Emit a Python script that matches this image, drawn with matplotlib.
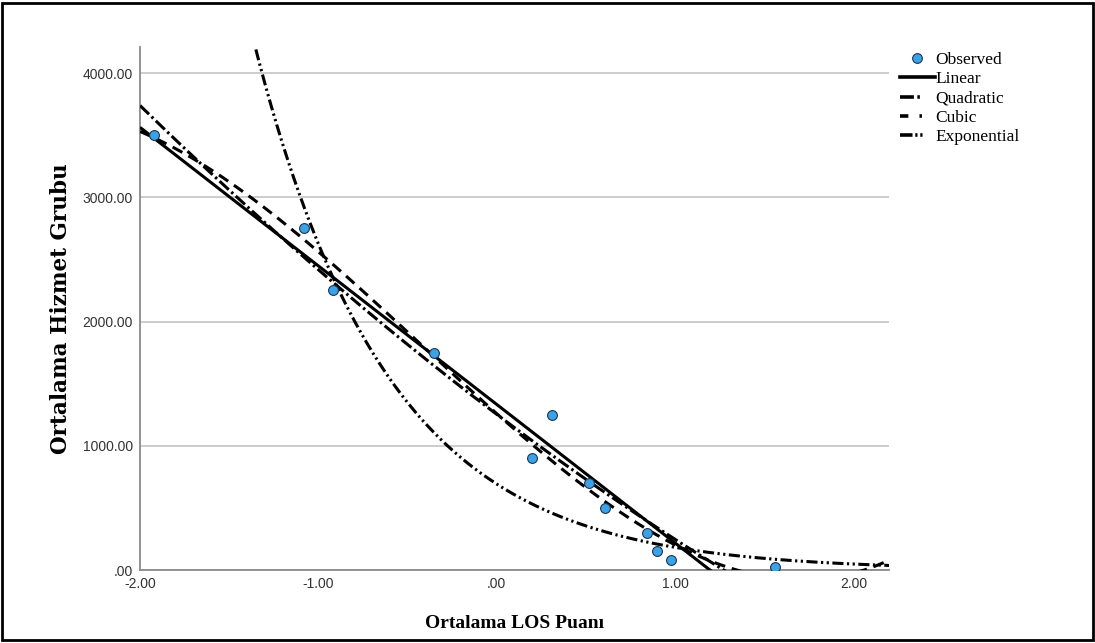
import numpy as np
import matplotlib
matplotlib.use("Agg")
import matplotlib.pyplot as plt
from matplotlib.ticker import FuncFormatter, FixedLocator
from matplotlib.patches import Rectangle
from matplotlib.lines import Line2D

# Observed group averages
los_score = [-1.92, -1.08, -0.92, -0.35, 0.31, 0.20, 0.52, 0.61, 0.84, 0.90, 0.98, 1.56]
service_group = [3500, 2750, 2250, 1750, 1250, 900, 700, 500, 300, 150, 80, 25]

x_ticks = [-2, -1, 0, 1, 2]
y_ticks = [0, 1000, 2000, 3000, 4000]
x_limits = (-2.0, 2.2)
y_limits = (0, 4210)

model_names = ["Linear", "Quadratic", "Cubic", "Exponential"]

plt.rcParams["lines.scale_dashes"] = False

x = np.asarray(los_score, dtype=float)
y = np.asarray(service_group, dtype=float)

# Curve estimation: least-squares fits
lin_c = np.polyfit(x, y, 1)
quad_c = np.polyfit(x, y, 2)
cub_c = np.polyfit(x, y, 3)
exp_c = np.polyfit(x, np.log(y), 1)

xs = np.linspace(x_limits[0], x_limits[1], 800)
curves = {
    "Linear": np.polyval(lin_c, xs),
    "Quadratic": np.polyval(quad_c, xs),
    "Cubic": np.polyval(cub_c, xs),
    "Exponential": np.exp(np.polyval(exp_c, xs)),
}
styles = {
    "Linear": dict(linestyle="-"),
    "Quadratic": dict(dashes=(9, 2.5, 1.8, 2.5)),
    "Cubic": dict(dashes=(8, 5)),
    "Exponential": dict(dashes=(8, 2.5, 1.6, 2.5, 1.6, 2.5)),
}
legend_styles = {
    "Linear": dict(linestyle="-"),
    "Quadratic": dict(dashes=(10, 2.5, 1.8, 20)),
    "Cubic": dict(dashes=(6, 8, 1.8, 20)),
    "Exponential": dict(dashes=(9, 2, 1.6, 2, 1.6, 20)),
}

fig = plt.figure(figsize=(10.95, 6.43), dpi=100)
ax = fig.add_axes([0.1279, 0.1135, 0.8119 - 0.1279, 0.927 - 0.1135])

for name in model_names:
    ax.plot(xs, curves[name], color="black", linewidth=2.2, zorder=3,
            solid_capstyle="butt", dash_capstyle="butt", **styles[name])

ax.scatter(x, y, s=50, color="#3aa2e6", edgecolors="#1f3550",
           linewidths=0.8, zorder=5)

ax.set_xlim(*x_limits)
ax.set_ylim(*y_limits)
ax.xaxis.set_major_locator(FixedLocator(x_ticks))
ax.yaxis.set_major_locator(FixedLocator(y_ticks))


def spss_fmt(v, pos):
    s = f"{v:.2f}"
    if abs(v) < 1:
        s = s.replace("0.", ".", 1)
    return s


ax.xaxis.set_major_formatter(FuncFormatter(spss_fmt))
ax.yaxis.set_major_formatter(FuncFormatter(spss_fmt))
ax.tick_params(length=0, labelsize=10, labelcolor="#333333", pad=5)
for lab in ax.get_xticklabels() + ax.get_yticklabels():
    lab.set_fontfamily("Liberation Sans")

ax.grid(axis="y", color="#c8c8c8", linewidth=1.3, zorder=0)
ax.set_axisbelow(True)
for side in ("top", "right"):
    ax.spines[side].set_visible(False)
for side in ("left", "bottom"):
    ax.spines[side].set_color("#8a8a8a")
    ax.spines[side].set_linewidth(1.3)

ax.set_xlabel("Ortalama LOS Puanı", fontfamily="Liberation Serif",
              fontweight="bold", fontsize=14, labelpad=17)
ax.set_ylabel("Ortalama Hizmet Grubu", fontfamily="DejaVu Serif",
              fontweight="bold", fontsize=15.5, labelpad=8)

handles = [Line2D([], [], linestyle="none", marker="o", markersize=7,
                  markerfacecolor="#3aa2e6", markeredgecolor="#1f3550",
                  markeredgewidth=0.8)]
for name in model_names:
    handles.append(Line2D([], [], color="black", linewidth=2.6,
                          **legend_styles[name]))
fig.legend(handles, ["Observed"] + model_names, loc="upper left",
           bbox_to_anchor=(0.8155, 0.93), frameon=False,
           prop={"family": "Liberation Serif", "size": 12.5},
           handlelength=2.0, handletextpad=0.05, labelspacing=0.18,
           borderaxespad=0)

fig.add_artist(Rectangle((0.002, 0.004), 0.996, 0.992, transform=fig.transFigure,
                         fill=False, edgecolor="black", linewidth=2))

fig.savefig("out.png", dpi=100)
